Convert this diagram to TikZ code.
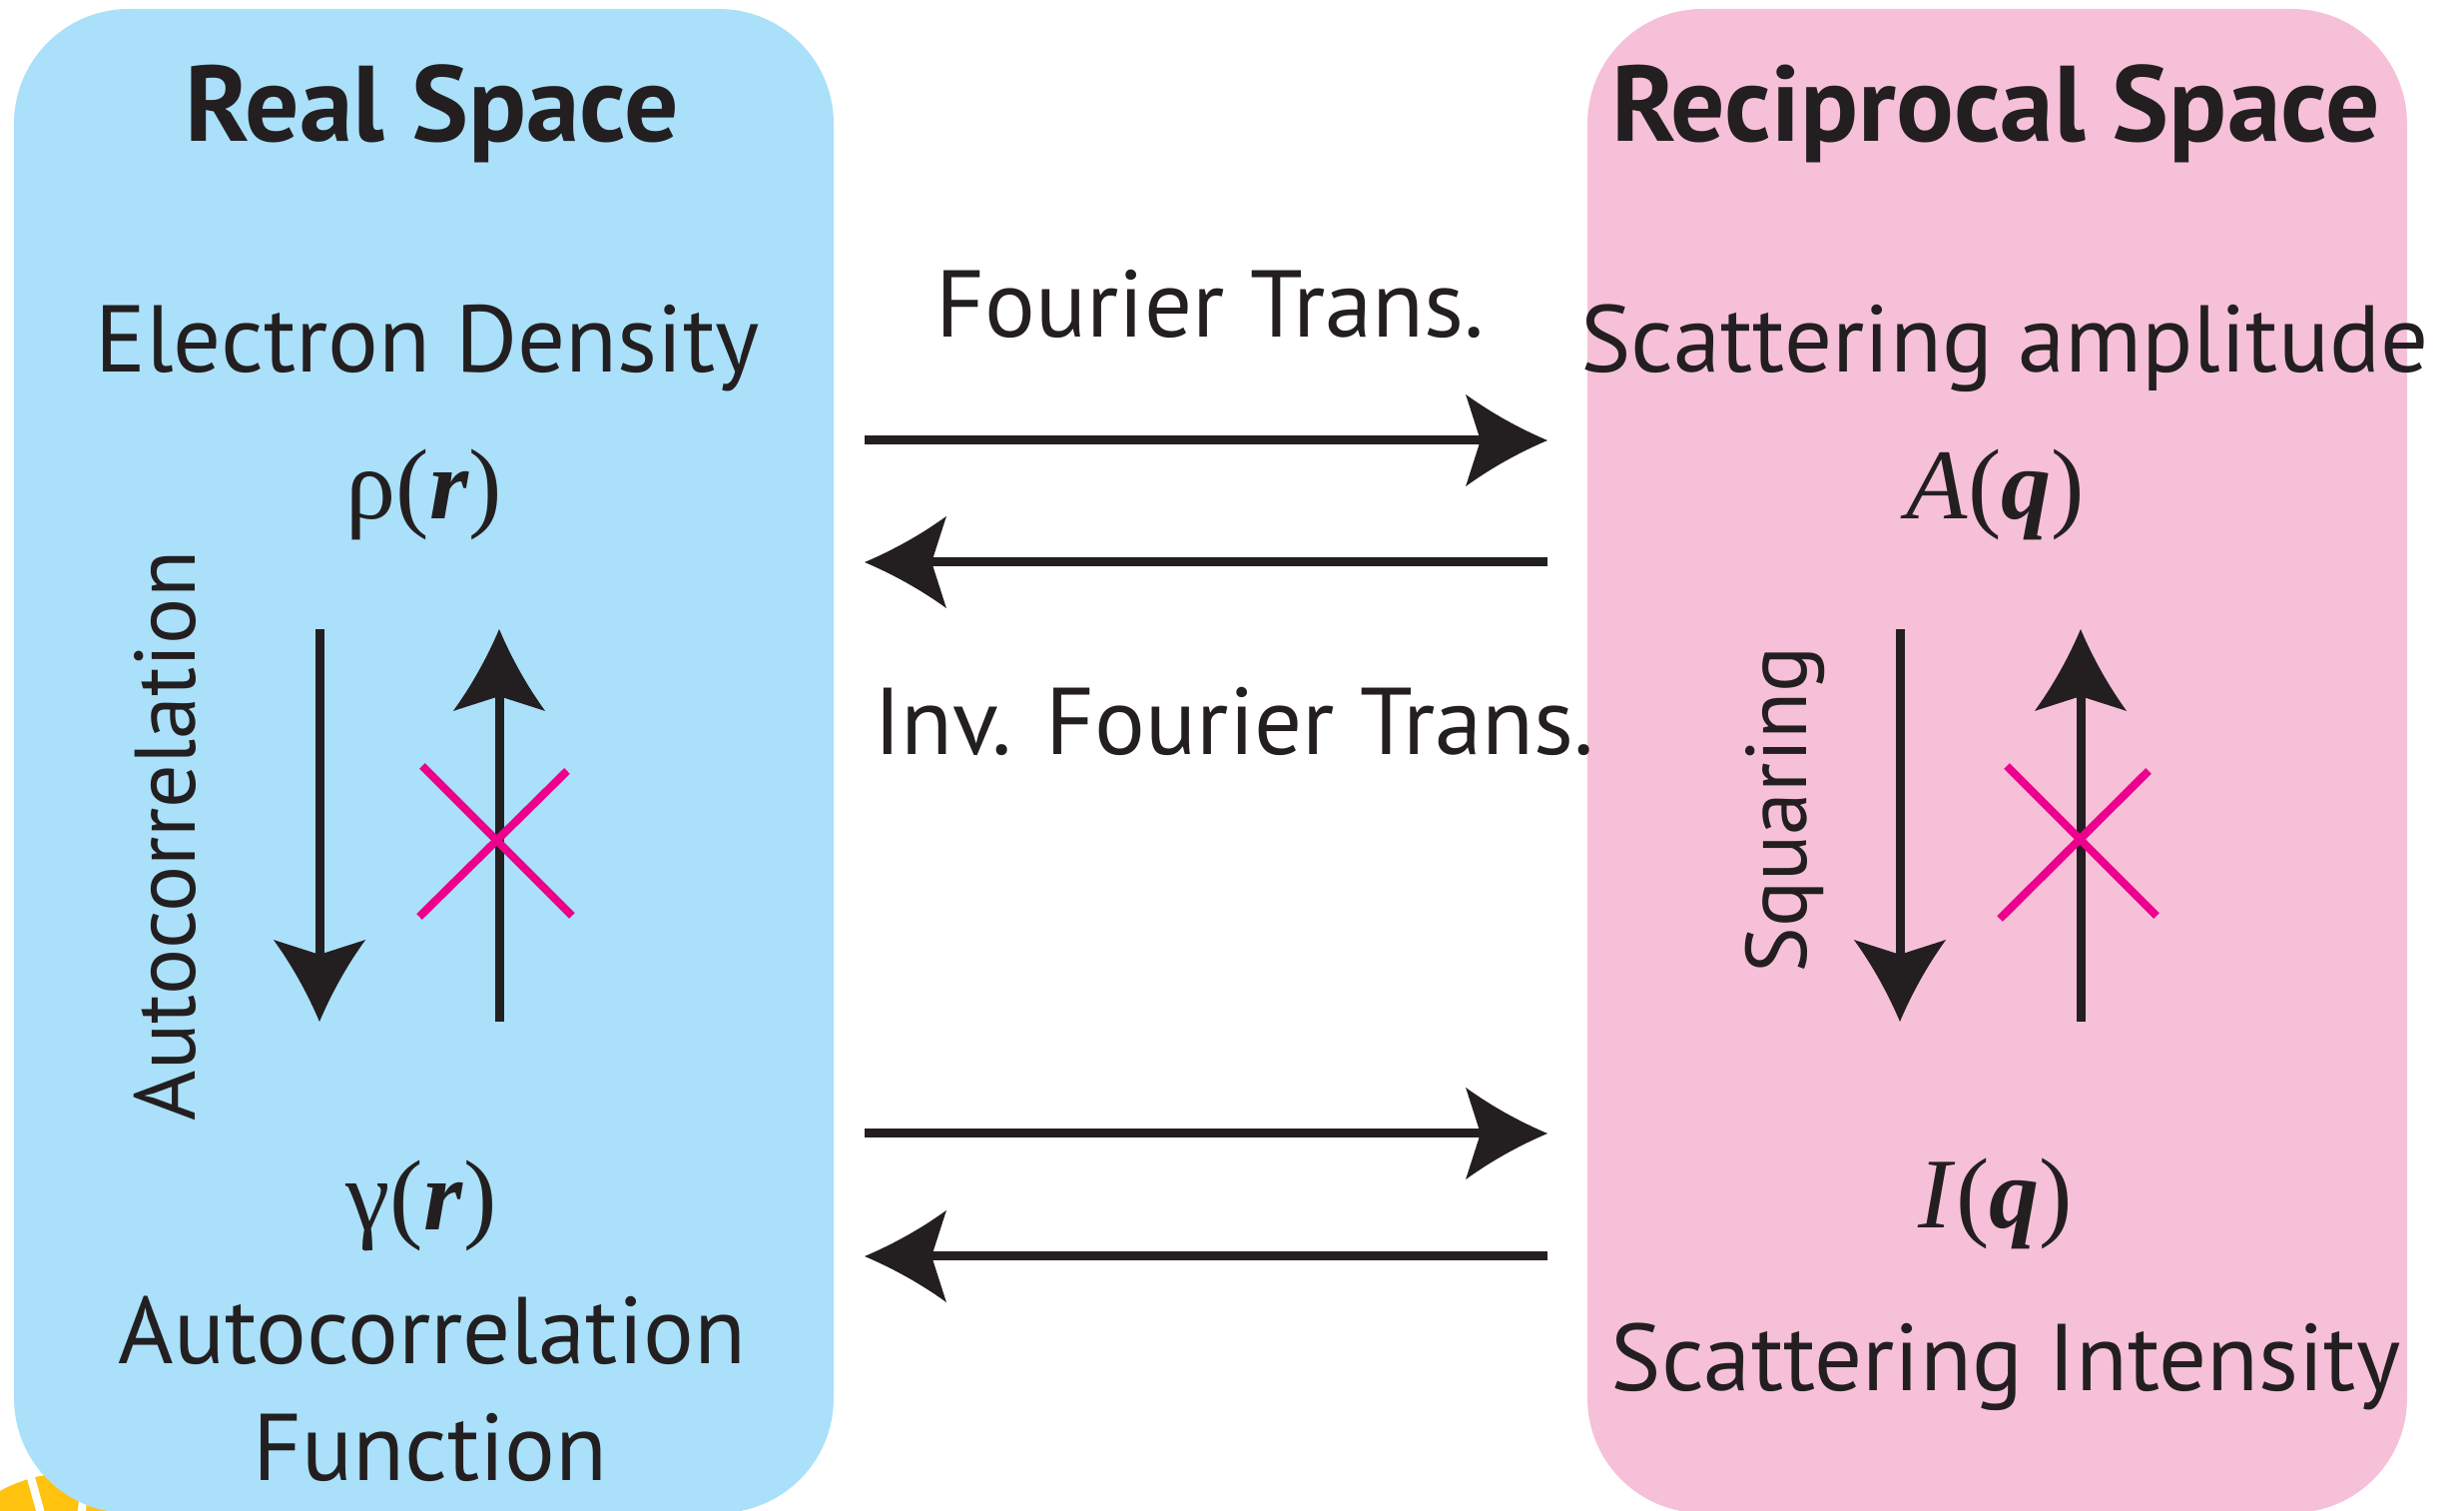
\documentclass[tikz,border=0pt]{standalone}
\usepackage{fontspec}
\setmainfont{PT Sans}
\newfontfamily\mathserif{Liberation Serif}
\usetikzlibrary{arrows.meta}
\definecolor{boxblue}{RGB}{170,224,249}
\definecolor{boxpink}{RGB}{246,192,217}
\definecolor{crossmag}{RGB}{236,0,140}
\definecolor{ink}{RGB}{35,31,32}
\definecolor{sunyellow}{RGB}{255,194,14}
\pgfdeclarearrow{
  name = Barb,
  setup code = {
    \pgfarrowssettipend{0pt}
    \pgfarrowssetlineend{-17pt}
    \pgfarrowssetvisualbackend{-19pt}
    \pgfarrowssetbackend{-23.3pt}
    \pgfarrowsupperhullpoint{-23.3pt}{13.1pt}
    \pgfarrowsupperhullpoint{0pt}{0pt}
  },
  drawing code = {
    \pgfpathmoveto{\pgfqpoint{0pt}{0pt}}
    \pgfpathcurveto{\pgfqpoint{-8pt}{3.4pt}}{\pgfqpoint{-16pt}{7.8pt}}{\pgfqpoint{-23.3pt}{13.1pt}}
    \pgfpathlineto{\pgfqpoint{-19.1pt}{0pt}}
    \pgfpathlineto{\pgfqpoint{-23.3pt}{-13.1pt}}
    \pgfpathcurveto{\pgfqpoint{-16pt}{-7.8pt}}{\pgfqpoint{-8pt}{-3.4pt}}{\pgfqpoint{0pt}{0pt}}
    \pgfpathclose
    \pgfusepathqfill
  },
  parameters = {}
}
\tikzset{
  panel/.style={rounded corners=32.7pt},
  txt/.style={font=\fontsize{27}{32}\selectfont, text=ink, inner sep=0pt, anchor=base},
  ttl/.style={font=\fontsize{30.6}{35}\selectfont\bfseries, text=ink, inner sep=0pt, anchor=base},
  sidetxt/.style={font=\fontsize{24.5}{30}\selectfont, text=ink, inner sep=0pt, anchor=base, rotate=90},
  mth/.style={font=\fontsize{28.5}{34}\selectfont\mathserif, text=ink, inner sep=0pt, anchor=base},
  conn/.style={draw=ink, line width=2.56pt, -{Barb}},
  nope/.style={draw=crossmag, line width=2.3pt}
}
\begin{document}
\begin{tikzpicture}[x=0.01cm, y=-0.01cm]
\useasboundingbox (0,0) rectangle (2468,1513);
\clip (0,0) rectangle (2468,1513);
\fill[white] (0,0) rectangle (2468,1513);
% partial yellow sunburst at bottom-left
\fill[sunyellow] (70,1620) circle[radius=145];
\draw[white, line width=2.3pt] (70,1620) -- (20,1440);
\draw[white, line width=2.3pt] (70,1620) -- (90,1440);
% panels
\fill[boxblue, panel] (14,9) rectangle (835,1515);
\fill[boxpink, panel] (1590,9) rectangle (2411,1515);
% titles
\node[ttl] (titleL) at (433,142) {Real Space};
\node[ttl] (titleR) at (1999,142) {Reciprocal Space};
% labels
\node[txt] (ed) at (428,373) {Electron Density};
\node[txt] (sa) at (2008,373) {Scattering amplitude};
\node[txt] (ft) at (1212,338) {Fourier Trans.};
\node[txt] (ift) at (1236,756) {Inv. Fourier Trans.};
\node[txt] (acf1) at (433,1366) {Autocorrelation};
\node[txt] (acf2) at (431,1483) {Function};
\node[txt] (si) at (2009,1393) {Scattering Intensity};
\node[sidetxt] (autoc) at (195,837) {Autocorrelation};
\node[sidetxt] (sq) at (1809,811) {Squaring};
% math
\node[mth] (rho) at (425,520) {ρ(\textbf{\textit{r}})};
\node[mth] (Aq) at (1999,520) {\textit{A}(\textbf{\textit{q}})};
\node[mth] (gam) at (422,1232) {γ(\textbf{\textit{r}})};
\node[mth] (Iq) at (1999,1230) {\textit{I}(\textbf{\textit{q}})};
% arrow endpoints
\coordinate (hL1) at (866,441);  \coordinate (hR1) at (1550,441);
\coordinate (hL2) at (866,563);  \coordinate (hR2) at (1550,563);
\coordinate (hL3) at (866,1135); \coordinate (hR3) at (1550,1135);
\coordinate (hL4) at (866,1258); \coordinate (hR4) at (1550,1258);
\coordinate (vLa) at (320,630);  \coordinate (vLb) at (320,1023);
\coordinate (vLc) at (500,1023); \coordinate (vLd) at (500,630);
\coordinate (vRa) at (1903,630); \coordinate (vRb) at (1903,1023);
\coordinate (vRc) at (2084,1023); \coordinate (vRd) at (2084,630);
\draw[conn] (hL1) -- (hR1);
\draw[conn] (hR2) -- (hL2);
\draw[conn] (hL3) -- (hR3);
\draw[conn] (hR4) -- (hL4);
\draw[conn] (vLa) -- (vLb);
\draw[conn] (vLc) -- (vLd);
\draw[conn] (vRa) -- (vRb);
\draw[conn] (vRc) -- (vRd);
% crosses
\draw[nope] (423,767) -- (573,917);
\draw[nope] (420,918) -- (568,772);
\draw[nope] (2010,767) -- (2160,917);
\draw[nope] (2003,920) -- (2152,772);
\end{tikzpicture}
\end{document}
